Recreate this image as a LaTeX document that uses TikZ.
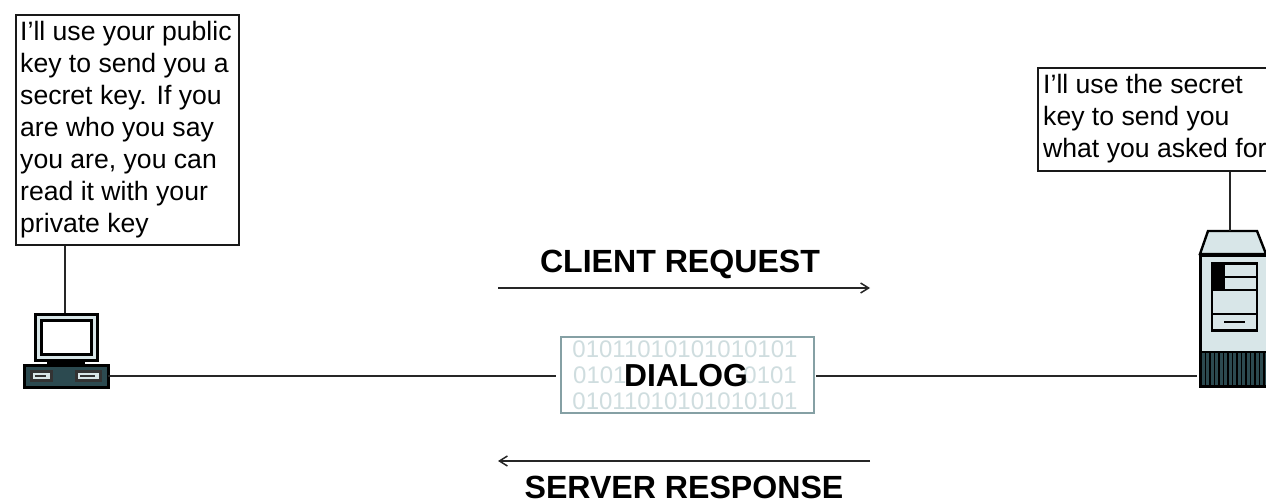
\documentclass[tikz,border=0pt]{standalone}
\usepackage{fontspec}
\setmainfont{Liberation Sans}
\usetikzlibrary{arrows.meta}
\definecolor{teal}{HTML}{2C4A50}
\definecolor{pale}{HTML}{D8E6E8}
\definecolor{boxedge}{HTML}{85A0A4}
\definecolor{bits}{HTML}{CFDDDF}
\tikzset{
  x=1pt,y=-1pt,
  wire/.style={draw=black!85,line width=2.9pt},
  thin arrow/.style={draw=black!85,line width=2pt,-{Straight Barb[length=8pt,width=10pt,line width=1.5pt]}},
  callout/.style={font=\fontsize{26.6}{32}\selectfont,anchor=north west,align=left,inner sep=0pt},
  calloutbox/.style={draw=black!90,line width=2.2pt,fill=white,inner sep=0pt,anchor=north west},
  heading/.style={font=\fontsize{32.1}{34}\selectfont\bfseries,inner sep=0pt,anchor=base},
  bitrow/.style={font=\fontsize{24}{26}\selectfont,text=bits,inner sep=0pt},
  part/.style={draw=black,line width=2.6pt,fill=pale,inner sep=0pt,anchor=north west},
}
\begin{document}
\begin{tikzpicture}
\useasboundingbox (0,0) rectangle (1266,502);
% callouts
\node[calloutbox,minimum width=223pt,minimum height=230pt] (leftbox) at (15,14) {};
\node[callout] (lefttext) at (20,21) {I'll use your public\\key to send you a\\secret key. If you\\are who you say\\you are, you can\\read it with your\\private key};
\node[calloutbox,minimum width=232pt,minimum height=103pt] (rightbox) at (1037,67) {};
\node[callout] (righttext) at (1043,74) {I'll use the secret\\key to send you\\what you asked for};
% computer
\node[part,minimum width=62pt,minimum height=46pt] (monitor) at (34,313) {};
\node[draw=black,line width=2.6pt,fill=white,minimum width=50pt,minimum height=34pt,inner sep=0pt,anchor=north west] (screen) at (40,319) {};
\fill[black] (47,360) rectangle (85,365);
\node[part,fill=teal,minimum width=84pt,minimum height=22pt] (base) at (23,364) {};
\node[part,minimum width=20pt,minimum height=9pt,draw=black!80] (slota) at (30,370.5) {};
\node[part,minimum width=24pt,minimum height=9pt,draw=black!80] (slotb) at (75,370.5) {};
\draw[line width=2.2pt,black!80] (35,376) -- (46,376);
\draw[line width=2.2pt,black!80] (80,376) -- (95,376);
% server
\node[part,minimum width=70pt,minimum height=131pt] (tower) at (1199,254) {};
\filldraw[fill=pale,draw=black,line width=2.4pt] (1200,254) -- (1208,231) coordinate (capl) -- (1257,231) -- (1266,254) -- cycle;
\coordinate (captop) at (1230,231);
\node[part,minimum width=45pt,minimum height=67pt] (panel) at (1210.5,262.5) {};
\fill[black] (1211,263) rectangle (1225,290);
\draw[line width=2.4pt,black] (1225,277) -- (1257,277);
\draw[line width=2.4pt,black] (1211,290) -- (1257,290);
\draw[line width=2.4pt,black] (1211,314) -- (1257,314);
\draw[line width=2.6pt,black] (1224,322) -- (1245,322);
\fill[teal] (1200,352) rectangle (1266,386);
\foreach \sx in {1201,1205.5,...,1266}{\draw[line width=1.5pt,black] (\sx,352) -- (\sx,386);}
\draw[black,line width=2.4pt] (1200,352) -- (1266,352);
\draw[black,line width=2.4pt] (1200,386) -- (1266,386);
\coordinate (serverleft) at (1197,376);
% dialog box
\node[draw=boxedge,line width=2.4pt,fill=white,minimum width=253pt,minimum height=76pt,inner sep=0pt,anchor=north west] (dialog) at (560,336) {};
\node[bitrow] (bitsa) at (685,349) {01011010101010101};
\node[bitrow,anchor=west] (bitsb) at (573,375) {0101};
\node[bitrow,anchor=east] (bitsc) at (797,375) {0101};
\node[bitrow] (bitsd) at (685,401) {01011010101010101};
\node[font=\fontsize{31.8}{32}\selectfont\bfseries,inner sep=0pt] (dialogtext) at (686,376) {DIALOG};
% wires
\coordinate (dl) at (556,376);
\coordinate (dr) at (816,376);
\coordinate (pcright) at (108,376);
\coordinate (pctop) at (65,313);
\draw[wire] (pcright) -- (dl);
\draw[wire] (dr) -- (serverleft);
\draw[wire] (leftbox.south -| pctop) -- (pctop);
\draw[wire] (rightbox.south -| captop) -- (captop);
% arrows
\coordinate (ca) at (498,288); \coordinate (cb) at (870,288);
\coordinate (sa) at (870,461); \coordinate (sb) at (498,461);
\draw[thin arrow] (ca) -- (cb);
\draw[thin arrow] (sa) -- (sb);
\node[heading] (client) at (680,273) {CLIENT REQUEST};
\node[heading] (resp) at (684,498) {SERVER RESPONSE};
\end{tikzpicture}
\end{document}
